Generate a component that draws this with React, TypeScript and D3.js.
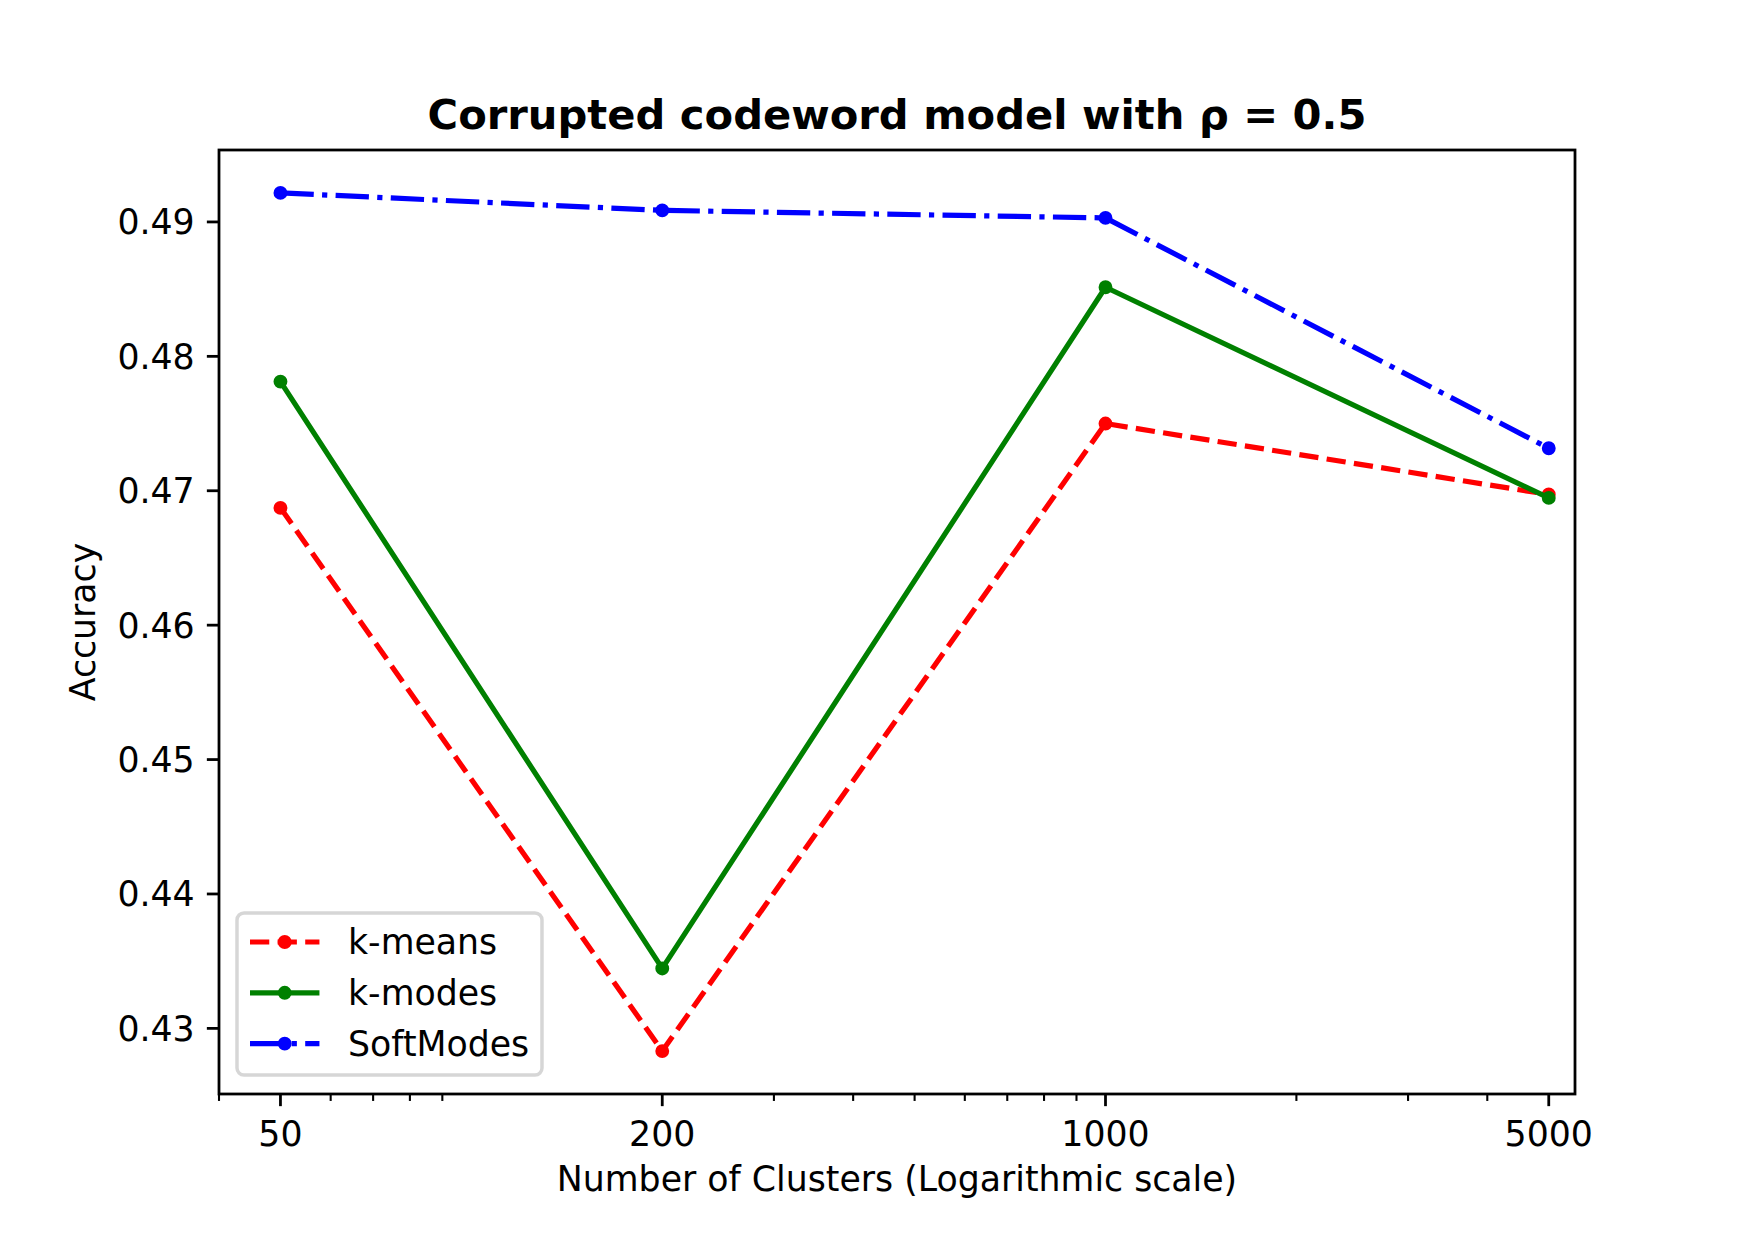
import { useEffect, useRef } from "react";
import * as d3 from "d3";

const WIDTH = 1750;
const HEIGHT = 1250;
const MARGIN = { top: 150, right: 175, bottom: 156, left: 219 };
const FONT = "'DejaVu Sans', sans-serif";
const PT = 250 / 72; // matplotlib points -> px at 250 dpi

const CLUSTERS = [50, 200, 1000, 5000];
const KMEANS = [0.46873, 0.42831, 0.475, 0.46972];
const KMODES = [0.47812, 0.43446, 0.48514, 0.46947];
const SOFTMODES = [0.49216, 0.49086, 0.4903, 0.47316];

const X_TICKS = [50, 200, 1000, 5000];
const Y_TICKS = [0.43, 0.44, 0.45, 0.46, 0.47, 0.48, 0.49];
const X_LIMITS: [number, number] = [40, 5500];

const TITLE = "Corrupted codeword model with ρ = 0.5";
const X_LABEL = "Number of Clusters (Logarithmic scale)";
const Y_LABEL = "Accuracy";

type Series = { name: string; color: string; dash: string | null; values: number[] };

const SERIES: Series[] = [
  { name: "k-means", color: "#ff0000", dash: `${3.7 * 1.5 * PT},${1.6 * 1.5 * PT}`, values: KMEANS },
  { name: "k-modes", color: "#008000", dash: null, values: KMODES },
  {
    name: "SoftModes",
    color: "#0000ff",
    dash: [6.4, 1.6, 1, 1.6].map((d) => d * 1.5 * PT).join(","),
    values: SOFTMODES,
  },
];

export default function App() {
  const svgRef = useRef<SVGSVGElement>(null);

  useEffect(() => {
    const svgElement = svgRef.current;
    if (!svgElement) return;

    const svg = d3.select(svgElement);
    svg.selectAll("*").remove();

    const left = MARGIN.left;
    const right = WIDTH - MARGIN.right;
    const top = MARGIN.top;
    const bottom = HEIGHT - MARGIN.bottom;

    const all = SERIES.flatMap((s) => s.values);
    const [lo, hi] = d3.extent(all) as [number, number];
    const pad = (hi - lo) * 0.05;

    const x = d3.scaleLog().domain(X_LIMITS).range([left, right]);
    const y = d3.scaleLinear().domain([lo - pad, hi + pad]).range([bottom, top]);

    const minorTicks = x
      .ticks()
      .filter((t) => !X_TICKS.includes(t) && Math.abs(Math.log10(t) % 1) > 1e-9);

    const spineWidth = 0.8 * PT;
    const majorLen = 3.5 * PT;
    const minorLen = 2 * PT;
    const fontSize = 10 * PT;

    // series lines and markers
    const line = d3
      .line<number>()
      .x((_, i) => x(CLUSTERS[i]))
      .y((d) => y(d));

    SERIES.forEach((s) => {
      svg
        .append("path")
        .attr("d", line(s.values))
        .attr("fill", "none")
        .attr("stroke", s.color)
        .attr("stroke-width", 1.5 * PT)
        .attr("stroke-dasharray", s.dash)
        .attr("stroke-linejoin", "round");

      svg
        .selectAll(null)
        .data(s.values)
        .join("circle")
        .attr("cx", (_, i) => x(CLUSTERS[i]))
        .attr("cy", (d) => y(d))
        .attr("r", 1.5 * PT)
        .attr("fill", s.color)
        .attr("stroke", s.color)
        .attr("stroke-width", 1 * PT);
    });

    // spines
    svg
      .append("rect")
      .attr("x", left)
      .attr("y", top)
      .attr("width", right - left)
      .attr("height", bottom - top)
      .attr("fill", "none")
      .attr("stroke", "black")
      .attr("stroke-width", spineWidth);

    // x ticks
    svg
      .selectAll(null)
      .data(X_TICKS)
      .join("line")
      .attr("x1", (d) => x(d))
      .attr("x2", (d) => x(d))
      .attr("y1", bottom)
      .attr("y2", bottom + majorLen)
      .attr("stroke", "black")
      .attr("stroke-width", spineWidth);

    svg
      .selectAll(null)
      .data(minorTicks)
      .join("line")
      .attr("x1", (d) => x(d))
      .attr("x2", (d) => x(d))
      .attr("y1", bottom)
      .attr("y2", bottom + minorLen)
      .attr("stroke", "black")
      .attr("stroke-width", 0.6 * PT);

    svg
      .selectAll(null)
      .data(X_TICKS)
      .join("text")
      .attr("x", (d) => x(d))
      .attr("y", bottom + 52)
      .attr("text-anchor", "middle")
      .attr("font-family", FONT)
      .attr("font-size", fontSize)
      .text((d) => String(d));

    // y ticks
    svg
      .selectAll(null)
      .data(Y_TICKS)
      .join("line")
      .attr("x1", left - majorLen)
      .attr("x2", left)
      .attr("y1", (d) => y(d))
      .attr("y2", (d) => y(d))
      .attr("stroke", "black")
      .attr("stroke-width", spineWidth);

    svg
      .selectAll(null)
      .data(Y_TICKS)
      .join("text")
      .attr("x", left - majorLen - 3.5 * PT)
      .attr("y", (d) => y(d))
      .attr("dy", "0.36em")
      .attr("text-anchor", "end")
      .attr("font-family", FONT)
      .attr("font-size", fontSize)
      .text((d) => d.toFixed(2));

    // labels and title
    svg
      .append("text")
      .attr("x", (left + right) / 2)
      .attr("y", 1191)
      .attr("text-anchor", "middle")
      .attr("font-family", FONT)
      .attr("font-size", fontSize)
      .text(X_LABEL);

    svg
      .append("text")
      .attr("transform", `translate(95,${(top + bottom) / 2}) rotate(-90)`)
      .attr("text-anchor", "middle")
      .attr("font-family", FONT)
      .attr("font-size", fontSize)
      .text(Y_LABEL);

    svg
      .append("text")
      .attr("x", (left + right) / 2)
      .attr("y", top - 6 * PT)
      .attr("text-anchor", "middle")
      .attr("font-family", FONT)
      .attr("font-size", 12 * PT)
      .attr("font-weight", "bold")
      .text(TITLE);

    // legend, lower left
    const legend = svg.append("g").attr("transform", `translate(${left + 18},${913})`);
    legend
      .append("rect")
      .attr("width", 305)
      .attr("height", 162)
      .attr("rx", 7)
      .attr("fill", "white")
      .attr("fill-opacity", 0.8)
      .attr("stroke", "#cccccc")
      .attr("stroke-opacity", 0.8)
      .attr("stroke-width", 1 * PT);

    SERIES.forEach((s, i) => {
      const cy = 29 + i * 50.8;
      legend
        .append("line")
        .attr("x1", 13)
        .attr("x2", 13 + 2 * fontSize)
        .attr("y1", cy)
        .attr("y2", cy)
        .attr("stroke", s.color)
        .attr("stroke-width", 1.5 * PT)
        .attr("stroke-dasharray", s.dash);
      legend
        .append("circle")
        .attr("cx", 13 + fontSize)
        .attr("cy", cy)
        .attr("r", 1.5 * PT)
        .attr("fill", s.color)
        .attr("stroke", s.color)
        .attr("stroke-width", 1 * PT);
      legend
        .append("text")
        .attr("x", 111)
        .attr("y", cy + 12)
        .attr("font-family", FONT)
        .attr("font-size", fontSize)
        .text(s.name);
    });
  }, []);

  return (
    <div style={{ position: "absolute", left: 0, top: 0, width: WIDTH, height: HEIGHT, background: "white" }}>
      <svg ref={svgRef} width={WIDTH} height={HEIGHT} role="img" aria-label={TITLE} />
    </div>
  );
}
